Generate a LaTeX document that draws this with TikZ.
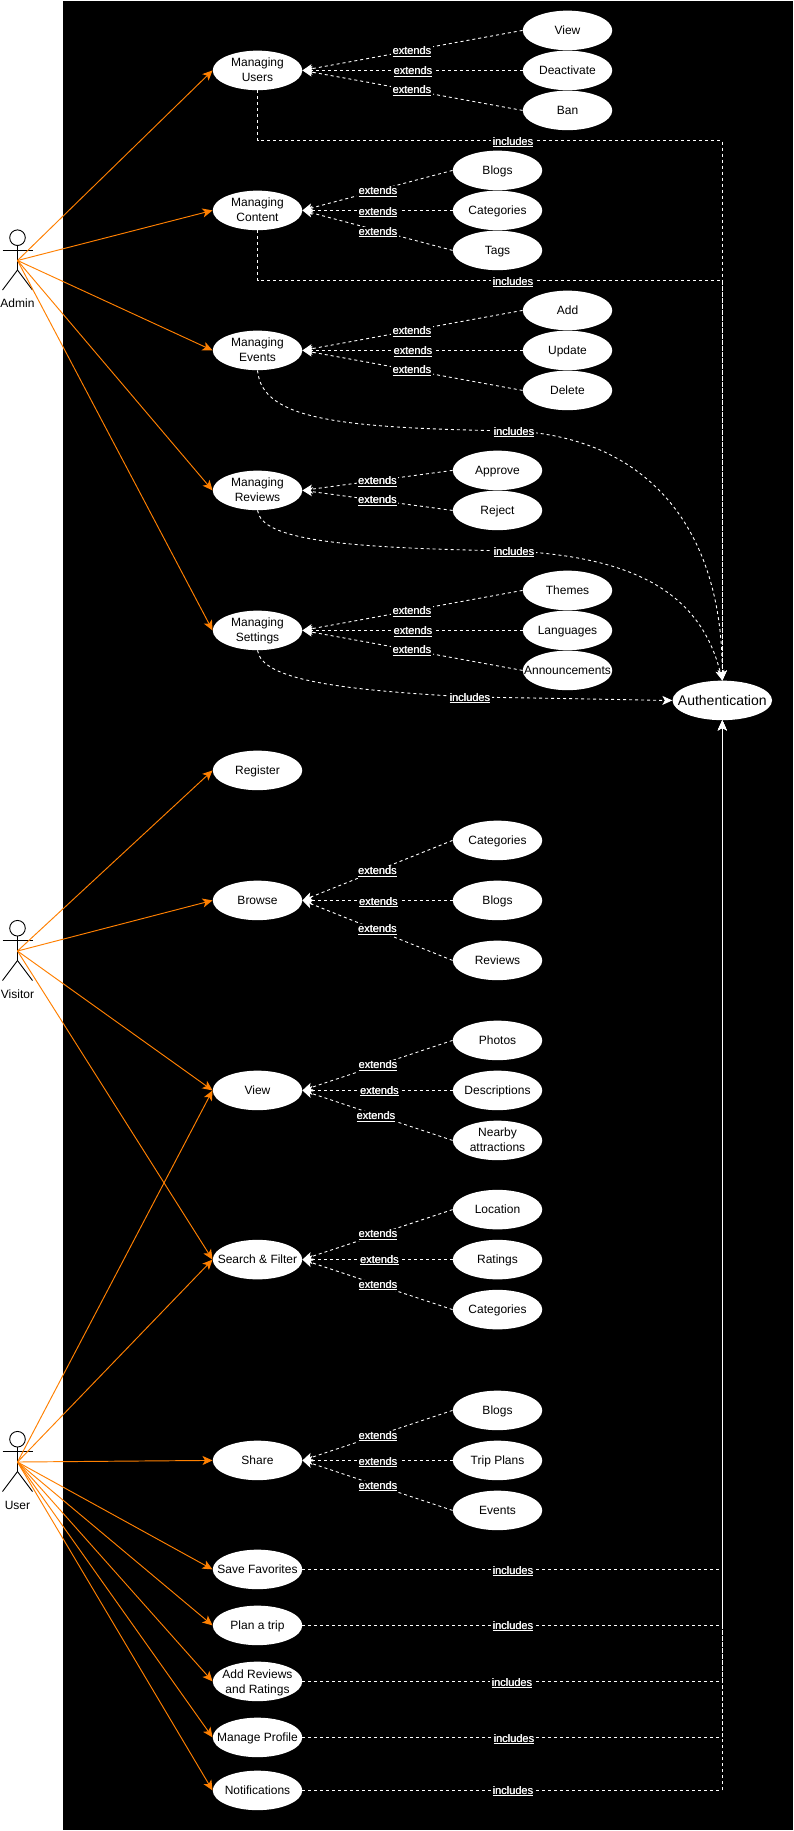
\documentclass[tikz,border=0pt]{standalone}
\usepackage{fontspec}
\setmainfont{Liberation Sans}
\usetikzlibrary{arrows.meta,shapes.geometric}
\definecolor{actororange}{HTML}{FF8000}
\newcommand{\uct}[1]{\makebox[0pt]{\raisebox{-0.34em}[0pt][0pt]{\begin{tabular}{@{}c@{}}#1\end{tabular}}}}
\newcommand{\ulx}[1]{\vtop{\hbox{\rlap{#1}\kern0.35pt #1}\kern0.9pt\hrule height 0.9pt}}
\tikzset{
  usecase/.style={ellipse,fill=white,draw=none,inner sep=0pt,minimum width=89.5pt,minimum height=39.5pt,text=black,font=\fontsize{12}{15}\selectfont},
  authcase/.style={usecase,minimum width=99.5pt,font=\fontsize{14}{17}\selectfont},
  lab/.style={fill=black,text=white,inner xsep=1.5pt,inner ysep=0.8pt,font=\fontsize{11}{13}\selectfont},
  extline/.style={draw=white,line width=0.9pt,dash pattern=on 3pt off 3pt,-{Stealth[length=10pt,width=9pt,inset=2.5pt]}},
  incline/.style={draw=white,line width=0.9pt,dash pattern=on 3pt off 3pt,-{Stealth[length=10pt,width=9pt,inset=2.5pt]}},
  assoc/.style={draw=actororange,line width=0.95pt,-{Stealth[length=10pt,width=9pt,inset=2.5pt]}},
  actorline/.style={draw=black,line width=0.9pt},
  actorname/.style={text=black,inner sep=0pt,font=\fontsize{12}{15}\selectfont}
}
\newcommand{\uc}[4]{\node[usecase] (#1) at (#2,#3) {\uct{#4}};}
\newcommand{\ext}[4]{\draw[extline] (#1.west) -- (#2.east); \node[lab] (l#1) at (#3,#4+0.4) {\ulx{extends}};}
\newcommand{\inclab}[3]{\node[lab] (#1) at (#2,#3+0.4) {\ulx{includes}};}
\newcommand{\actor}[3]{%
  \draw[actorline] (17.5,#2+7.7) circle (7.8pt);
  \draw[actorline] (17.5,#2+15.5) -- (17.5,#2+40) -- (2.5,#2+60);
  \draw[actorline] (17.5,#2+40) -- (32.5,#2+60);
  \draw[actorline] (2.5,#2+20.3) -- (32.5,#2+20.3);
  \coordinate (#1) at (17.5,#2+30.5);
  \node[actorname] (#1name) at (17.5,#2+73.5) {#3};
}
\begin{document}
\begin{tikzpicture}[x=1pt,y=-1pt]
\path[use as bounding box,fill=white] (0,0) rectangle (793,1831);
\fill[black] (63,1) rectangle (793,1830);
% actors
\actor{admin}{230}{Admin}
\actor{visitor}{920.5}{Visitor}
\actor{user}{1431.5}{User}
% main use cases
\uc{mu}{257.5}{70.4}{Managing\\Users}
\uc{mc}{257.5}{210.4}{Managing\\Content}
\uc{me}{257.5}{350.4}{Managing\\Events}
\uc{mr}{257.5}{490.4}{Managing\\Reviews}
\uc{ms}{257.5}{630.4}{Managing\\Settings}
\uc{reg}{257.5}{770.4}{Register}
\uc{br}{257.5}{900.4}{Browse}
\uc{vw}{257.5}{1090.4}{View}
\uc{sf}{257.5}{1259.6}{Search \& Filter}
\uc{sh}{257.5}{1460.4}{Share}
\uc{sv}{257.5}{1569.4}{Save Favorites}
\uc{pl}{257.5}{1625.4}{Plan a trip}
\uc{ar}{257.5}{1681.4}{Add Reviews\\and Ratings}
\uc{mp}{257.5}{1737.4}{Manage Profile}
\uc{no}{257.5}{1790.4}{Notifications}
\node[authcase] (auth) at (722.3,700.4) {\raisebox{-0.7pt}[0pt][0pt]{\uct{Authentication}}};
% children
\uc{a1}{567.5}{30.4}{View}
\uc{a2}{567.5}{70.4}{Deactivate}
\uc{a3}{567.5}{110.4}{Ban}
\uc{b1}{497.5}{170.4}{Blogs}
\uc{b2}{497.5}{210.4}{Categories}
\uc{b3}{497.5}{250.4}{Tags}
\uc{c1}{567.5}{310.4}{Add}
\uc{c2}{567.5}{350.4}{Update}
\uc{c3}{567.5}{390.4}{Delete}
\uc{d1}{497.5}{470.4}{Approve}
\uc{d2}{497.5}{510.4}{Reject}
\uc{e1}{567.5}{590.4}{Themes}
\uc{e2}{567.5}{630.4}{Languages}
\uc{e3}{567.5}{670.4}{Announcements}
\uc{f1}{497.5}{840.4}{Categories}
\uc{f2}{497.5}{900.4}{Blogs}
\uc{f3}{497.5}{960.4}{Reviews}
\uc{g1}{497.5}{1040.4}{Photos}
\uc{g2}{497.5}{1090.4}{Descriptions}
\uc{g3}{497.5}{1140.4}{Nearby\\attractions}
\uc{h1}{497.5}{1209.6}{Location}
\uc{h2}{497.5}{1259.6}{Ratings}
\uc{h3}{497.5}{1309.6}{Categories}
\uc{i1}{497.5}{1410.4}{Blogs}
\uc{i2}{497.5}{1460.4}{Trip Plans}
\uc{i3}{497.5}{1510.4}{Events}
% extends
\ext{a1}{mu}{412}{51.5}
\ext{a2}{mu}{413}{71.5}
\ext{a3}{mu}{412}{90.5}
\ext{b1}{mc}{378}{191.5}
\ext{b2}{mc}{378}{212}
\ext{b3}{mc}{378}{232}
\ext{c1}{me}{412}{331.5}
\ext{c2}{me}{413}{351.5}
\ext{c3}{me}{412}{370.5}
\ext{d1}{mr}{377.5}{481.5}
\ext{d2}{mr}{377.5}{500.5}
\ext{e1}{ms}{412}{611.5}
\ext{e2}{ms}{413}{631.5}
\ext{e3}{ms}{412}{650.5}
\ext{f1}{br}{377.5}{871.5}
\ext{f2}{br}{378.5}{902}
\ext{f3}{br}{377.5}{929.5}
\ext{g1}{vw}{378}{1065.5}
\ext{g2}{vw}{379.5}{1091}
\ext{g3}{vw}{376}{1116.5}
\ext{h1}{sf}{378}{1234.5}
\ext{h2}{sf}{379.5}{1260}
\ext{h3}{sf}{378}{1285}
\ext{i1}{sh}{378}{1436}
\ext{i2}{sh}{378}{1462}
\ext{i3}{sh}{378}{1486}
% includes
\coordinate (k1) at (722.3,140.4);
\coordinate (k2) at (722.3,280.4);
\draw[incline] (mu.south) |- (k1) -- (auth.north);
\draw[incline] (mc.south) |- (k2) -- (auth.north);
\coordinate (k3) at (514,431);
\draw[incline] (me.south) .. controls (262,420) and (340,428) .. (k3) .. controls (640,437) and (722.3,520) .. (auth.north);
\coordinate (k4) at (514,551);
\draw[incline] (mr.south) .. controls (262,540) and (340,548) .. (k4) .. controls (630,557) and (700,590) .. (auth.north);
\coordinate (k5) at (470,697);
\draw[incline] (ms.south) .. controls (262,680) and (340,690) .. (k5) .. controls (600,699) and (660,700.4) .. (auth.west);
\foreach \nm/\yy in {sv/1569.4,pl/1625.4,ar/1681.4,mp/1737.4,no/1790.4}{
  \coordinate (t\nm) at (722.3,\yy);
  \draw[incline] (\nm.east) -- (t\nm) -- (auth.south);
}
\inclab{n1}{513}{142}
\inclab{n2}{513}{282}
\inclab{n3}{514}{432}
\inclab{n4}{514}{552}
\inclab{n5}{470}{698}
\inclab{n6}{513}{1571}
\inclab{n7}{513}{1626}
\inclab{n8}{512}{1683}
\inclab{n9}{514}{1739}
\inclab{n10}{513}{1791}
% associations
\foreach \t in {mu,mc,me,mr,ms}{\draw[assoc] (admin) -- (\t.west);}
\foreach \t in {reg,br,vw,sf}{\draw[assoc] (visitor) -- (\t.west);}
\foreach \t in {vw,sf,sh,sv,pl,ar,mp,no}{\draw[assoc] (user) -- (\t.west);}
\end{tikzpicture}
\end{document}
